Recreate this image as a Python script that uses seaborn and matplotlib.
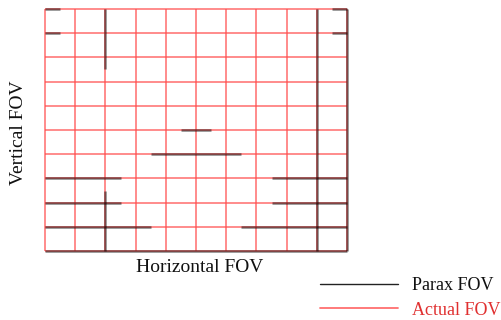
import matplotlib
matplotlib.use("Agg")
import matplotlib.pyplot as plt
from matplotlib.lines import Line2D
import numpy as np
import pandas as pd
import seaborn as sns

# Grid positions (field units) of the actual-FOV distortion grid
grid_cols = list(range(11))
grid_rows = list(range(11))

# Paraxial grid segments that stand apart from the actual grid
parax_h_row = [10, 10, 9, 9, 5, 4, 3, 3, 2, 2, 1, 1, 0]
parax_h_x0 = [0, 9.5, 0, 9.5, 4.5, 3.5, 0, 7.5, 0, 7.5, 0, 6.5, 0]
parax_h_x1 = [0.5, 10, 0.5, 10, 5.5, 6.5, 2.5, 10, 2.5, 10, 3.5, 10, 10]
parax_v_col = [2, 2, 9, 10]
parax_v_y0 = [7.5, 0, 0, 0]
parax_v_y1 = [10, 2.5, 10, 10]

legend_labels = ["Parax FOV", "Actual FOV"]

RED = "#ff4d4d"
DARK = "#000000"

sns.set_theme(style="white")
plt.rcParams["font.family"] = ["Liberation Serif", "DejaVu Serif"]


def segments(xs0, ys0, xs1, ys1):
    rows = []
    for i, (a, b, c, d) in enumerate(zip(xs0, ys0, xs1, ys1)):
        rows.append({"seg": i, "order": 0, "x": a, "y": b})
        rows.append({"seg": i, "order": 1, "x": c, "y": d})
    return pd.DataFrame(rows)


lo, hi = min(grid_cols), max(grid_cols)
blo, bhi = min(grid_rows), max(grid_rows)
actual = segments(
    grid_cols + [lo] * len(grid_rows),
    [blo] * len(grid_cols) + grid_rows,
    grid_cols + [hi] * len(grid_rows),
    [bhi] * len(grid_cols) + grid_rows,
)
parax = segments(
    parax_h_x0 + parax_v_col,
    parax_h_row + parax_v_y0,
    parax_h_x1 + parax_v_col,
    parax_h_row + parax_v_y1,
)

fig = plt.figure(figsize=(5.01, 3.20), dpi=100)
ax = fig.add_axes([45 / 501, (320 - 251) / 320, 302 / 501, 242 / 320])

sns.lineplot(data=actual, x="x", y="y", units="seg", estimator=None, sort=False,
             color=RED, alpha=0.7, linewidth=1.3, ax=ax, legend=False)
sns.lineplot(data=parax, x="x", y="y", units="seg", estimator=None, sort=False,
             color=DARK, alpha=0.5, linewidth=1.8, ax=ax, legend=False)
for ln in ax.lines:
    ln.set_clip_on(False)
    ln.set_solid_capstyle("butt")

ax.set_xlim(lo, hi)
ax.set_ylim(blo, bhi)
ax.set_xticks([])
ax.set_yticks([])
for s in ax.spines.values():
    s.set_visible(False)
ax.set_xlabel("")
ax.set_ylabel("")

fig.text(200 / 501, 1 - 268 / 320, "Horizontal FOV", ha="center", va="center",
         fontsize=14, color="#111111")
fig.text(19 / 501, 1 - 133 / 320, "Vertical FOV", ha="center", va="center",
         rotation=90, fontsize=14, color="#111111")

handles = [Line2D([], [], color="#222222", linewidth=1.0),
           Line2D([], [], color="#ff7070", linewidth=1.3)]
leg = fig.legend(handles, legend_labels, loc="center left",
                 bbox_to_anchor=(320 / 501, 1 - 298 / 320), frameon=False,
                 handlelength=4.3, handletextpad=0.8, labelspacing=0.4,
                 fontsize=13, borderpad=0, borderaxespad=0)
leg.get_texts()[0].set_color("#111111")
leg.get_texts()[1].set_color("#e03030")

fig.savefig("out.png", dpi=100)
